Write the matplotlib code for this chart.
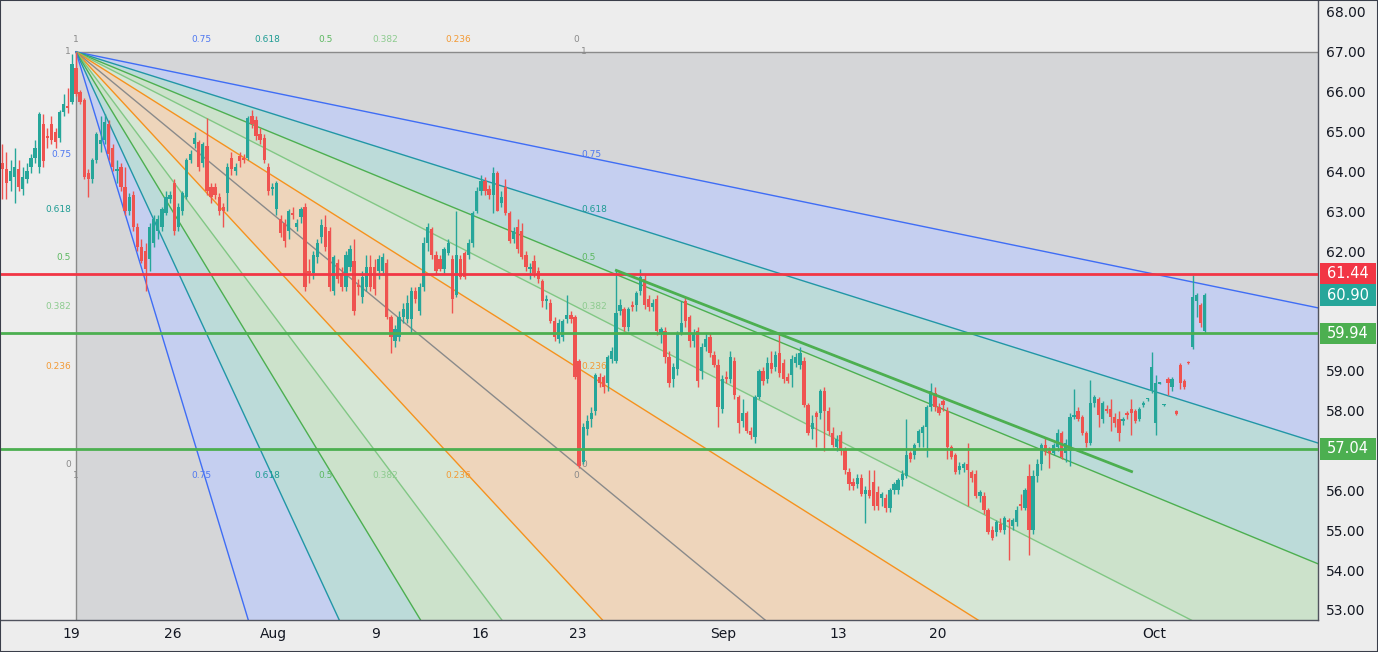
import numpy as np
import matplotlib.pyplot as plt
from matplotlib.patches import Rectangle, Polygon
import matplotlib.transforms as mtransforms

# 4h candles, first bar sits 18 bars left of the fan anchor (Jul 19 high)
first_bar = -18

opens = [
    64.2, 64.05, 63.75, 63.85, 64.05, 63.55, 63.8, 64.1, 64.35, 64.1,
    65.2, 64.9, 65.2, 65.0, 64.85, 65.5, 65.65, 65.75, 66.6, 66.0,
    65.8, 63.95, 63.8, 64.3, 64.7, 64.8, 65.2, 64.6, 64.0, 64.1,
    63.6, 63.0, 63.4, 62.6, 62.1, 62.0, 61.8, 62.2, 62.5, 62.6,
    62.95, 63.3, 63.7, 62.6, 63.0, 63.35, 64.3, 64.7, 64.75, 64.2,
    64.65, 63.6, 63.6, 63.35, 63.1, 63.45, 64.35, 64.0, 64.4, 64.35,
    64.35, 65.4, 65.3, 64.95, 64.85, 64.1, 63.55, 63.05, 62.8, 62.7,
    62.5, 62.95, 62.6, 62.85, 63.1, 61.5, 61.45, 61.85, 62.35, 62.6,
    62.5, 61.0, 61.7, 61.45, 61.1, 61.6, 61.75, 61.15, 60.85, 61.1,
    61.6, 61.6, 61.5, 61.5, 61.7, 60.35, 59.75, 59.85, 60.35, 60.3,
    60.3, 61.0, 60.5, 61.1, 62.2, 62.55, 61.9, 61.8, 61.55, 61.95,
    61.8, 60.9, 61.8, 61.95, 61.9, 62.2, 63.0, 63.5, 63.75, 63.55,
    63.4, 63.95, 63.2, 63.6, 62.95, 62.3, 62.6, 62.5, 61.9, 61.55,
    61.75, 61.5, 61.25, 60.75, 60.7, 60.25, 59.8, 59.85, 60.3, 60.4,
    60.35, 59.25, 56.7, 57.55, 57.8, 58.0, 58.85, 58.85, 58.7, 59.3,
    59.25, 60.5, 60.55, 60.1, 60.65, 60.65, 61.0, 61.3, 60.8, 60.6,
    60.8, 59.95, 60.0, 59.35, 58.8, 59.05, 59.95, 60.75, 60.35, 59.75,
    60.0, 59.0, 59.6, 59.85, 59.4, 59.15, 58.05, 58.85, 58.8, 59.25,
    58.35, 57.75, 57.95, 57.5, 57.35, 58.35, 59.0, 58.8, 59.2, 59.1,
    59.45, 59.2, 58.85, 58.9, 59.2, 59.15, 59.25, 58.15, 57.55, 57.95,
    57.95, 58.5, 58.0, 57.45, 57.1, 57.4, 57.05, 56.45, 56.2, 56.15,
    56.3, 55.9, 56.0, 56.2, 55.95, 55.8, 55.8, 55.55, 56.0, 56.0,
    56.25, 56.35, 56.95, 56.9, 57.2, 57.45, 57.6, 58.1, 58.45, 58.1,
    58.25, 58.0, 57.1, 56.9, 56.5, 56.55, 56.65, 56.45, 56.4, 55.85,
    55.85, 55.5, 55.0, 54.95, 55.15, 55.0, 55.25, 55.1, 55.2, 55.65,
    55.55, 56.35, 55.0, 56.35, 56.65, 57.15, 57.0, 56.95, 57.1, 57.45,
    56.95, 57.0, 57.85, 58.0, 57.85, 57.45, 57.2, 58.2, 58.3, 57.8,
    58.05, 58.05, 57.85, 57.8, 57.75, 57.95, 58.05, 57.98, 57.8, 58.15,
    58.28, 58.5, 57.7, 58.68, 58.14, 58.8, 58.6, 58.0, 59.15, 58.75,
    59.22, 59.6, 60.75, 60.65, 60.0,
]
highs = [
    64.7, 64.5, 64.3, 64.6, 64.3, 64.1, 64.2, 64.45, 64.8, 65.5,
    65.45, 65.1, 65.4, 65.1, 65.55, 65.95, 66.1, 66.95, 67.0, 66.05,
    65.85, 64.05, 64.35, 65.0, 65.4, 65.45, 65.3, 64.7, 64.3, 64.2,
    64.1, 63.45, 63.5, 62.7, 62.3, 62.2, 62.7, 62.9, 62.9, 63.1,
    63.5, 63.5, 63.8, 63.2, 63.5, 64.35, 64.55, 65.0, 64.8, 64.75,
    65.35, 63.7, 63.7, 63.45, 63.2, 64.2, 64.5, 64.2, 64.5, 64.45,
    65.4, 65.55, 65.4, 65.1, 64.95, 64.2, 63.7, 63.75, 62.9, 62.8,
    63.05, 63.1, 62.8, 63.1, 63.2, 61.8, 62.0, 62.3, 62.8, 62.9,
    62.6, 61.9, 61.8, 61.6, 62.0, 62.15, 62.3, 61.3, 61.5, 61.9,
    61.9, 61.8, 61.9, 61.95, 61.8, 60.4, 60.15, 60.5, 60.7, 60.9,
    61.1, 61.1, 61.2, 62.35, 62.7, 62.6, 62.0, 61.9, 62.1, 62.3,
    61.9, 63.0, 61.9, 62.0, 62.3, 63.0, 63.6, 63.9, 63.85, 63.65,
    64.1, 64.0, 63.5, 63.8, 63.0, 62.6, 62.8, 62.7, 62.0, 61.7,
    61.9, 61.6, 61.3, 60.9, 60.8, 60.35, 60.3, 60.3, 60.9, 60.5,
    60.4, 59.3, 57.7, 57.9, 58.1, 58.95, 58.95, 58.9, 59.4, 59.6,
    61.52, 60.8, 60.6, 60.6, 60.75, 61.0, 61.55, 61.4, 60.9, 60.8,
    60.9, 60.1, 60.1, 59.5, 59.2, 60.0, 60.75, 60.85, 60.4, 60.05,
    60.1, 59.7, 59.95, 59.95, 59.5, 59.3, 58.9, 59.0, 59.5, 59.35,
    58.4, 58.3, 58.0, 57.6, 58.4, 59.05, 59.1, 59.35, 59.5, 59.5,
    59.97, 59.3, 58.95, 59.4, 59.45, 59.6, 59.35, 58.2, 57.9, 58.0,
    58.55, 58.6, 58.1, 57.6, 57.4, 57.5, 57.1, 56.55, 56.3, 56.4,
    56.4, 56.1, 56.5, 56.5, 56.1, 55.95, 55.9, 56.05, 56.2, 56.3,
    56.5, 57.8, 57.0, 57.2, 57.55, 57.65, 58.15, 58.7, 58.6, 58.2,
    58.3, 58.1, 57.15, 56.95, 56.7, 56.7, 57.2, 56.5, 56.5, 56.0,
    55.95, 55.55, 55.1, 55.25, 55.3, 55.35, 55.3, 55.3, 55.6, 55.9,
    56.05, 56.65, 56.5, 56.8, 57.2, 57.35, 57.1, 57.2, 57.55, 57.5,
    57.3, 57.95, 58.55, 58.1, 57.9, 57.5, 58.77, 58.4, 58.35, 58.25,
    58.15, 58.3, 57.95, 58.0, 57.85, 58.0, 58.3, 58.05, 58.1, 58.25,
    58.32, 59.47, 58.9, 58.72, 58.17, 58.85, 58.85, 58.02, 59.2, 58.8,
    59.24, 61.4, 60.95, 60.7, 60.95,
]
lows = [
    63.3, 63.3, 63.5, 63.2, 63.5, 63.4, 63.7, 63.95, 64.2, 63.95,
    64.1, 64.6, 64.7, 64.6, 64.75, 65.4, 65.47, 65.7, 65.9, 65.7,
    63.8, 63.35, 63.7, 64.2, 64.5, 64.7, 64.3, 64.0, 63.7, 63.5,
    62.9, 62.9, 62.5, 62.0, 61.7, 61.0, 61.5, 62.1, 62.3, 62.5,
    62.9, 63.2, 62.4, 62.5, 62.9, 63.3, 64.2, 64.6, 64.0, 64.1,
    63.4, 63.2, 63.3, 62.9, 62.6, 63.0, 63.9, 63.9, 64.1, 64.2,
    64.3, 65.1, 64.8, 64.7, 64.2, 63.4, 63.4, 62.9, 62.35, 62.1,
    62.3, 62.8, 62.5, 62.7, 61.0, 61.2, 61.3, 61.7, 62.2, 62.0,
    61.0, 60.9, 61.2, 61.0, 61.0, 61.5, 60.4, 60.9, 60.7, 61.0,
    61.0, 60.9, 61.3, 61.4, 60.3, 59.45, 59.6, 59.75, 60.2, 60.2,
    59.95, 60.7, 60.4, 61.0, 62.0, 61.8, 61.4, 61.5, 61.45, 61.9,
    60.45, 60.85, 61.3, 61.3, 61.8, 62.1, 62.95, 63.4, 63.4, 63.3,
    62.95, 63.0, 63.1, 62.9, 62.2, 62.2, 61.95, 61.8, 61.5, 61.3,
    61.35, 61.2, 60.6, 60.55, 60.2, 59.75, 59.7, 59.75, 60.2, 60.2,
    58.8, 56.55, 56.65, 57.4, 57.6, 57.9, 58.6, 58.45, 58.5, 59.2,
    59.2, 60.4, 60.0, 60.0, 60.5, 60.5, 60.9, 60.55, 60.5, 60.5,
    59.9, 59.7, 59.2, 58.6, 58.6, 58.9, 59.9, 60.1, 59.6, 59.6,
    58.6, 58.8, 59.5, 59.35, 59.1, 57.6, 57.95, 58.7, 58.7, 58.3,
    57.45, 57.6, 57.45, 57.3, 57.2, 58.3, 58.65, 58.7, 58.95, 59.0,
    58.85, 58.7, 58.7, 58.6, 59.1, 59.05, 58.1, 57.4, 57.3, 57.1,
    57.8, 57.0, 57.4, 57.1, 57.0, 56.9, 56.4, 56.0, 56.0, 56.05,
    55.85, 55.18, 55.8, 55.5, 55.5, 55.6, 55.45, 55.45, 55.9, 55.9,
    56.1, 56.3, 56.7, 56.8, 57.1, 57.1, 56.85, 58.0, 58.0, 57.9,
    58.0, 56.8, 56.8, 56.4, 56.4, 56.45, 55.6, 56.2, 55.8, 55.7,
    55.4, 54.9, 54.75, 54.85, 54.95, 54.9, 54.25, 55.0, 55.1, 55.5,
    55.5, 54.38, 54.9, 56.2, 56.5, 56.9, 56.55, 56.9, 57.0, 56.8,
    56.7, 56.6, 57.8, 57.75, 57.4, 57.1, 57.15, 58.1, 57.6, 57.7,
    57.95, 57.5, 57.6, 57.25, 57.65, 57.8, 57.4, 57.7, 57.75, 58.1,
    58.25, 58.45, 57.4, 58.66, 58.12, 58.4, 58.5, 57.9, 58.55, 58.55,
    59.18, 59.55, 60.35, 60.1, 59.95,
]
closes = [
    64.05, 63.7, 64.0, 64.1, 63.6, 63.85, 64.0, 64.35, 64.6, 65.45,
    64.25, 64.85, 64.8, 64.75, 65.5, 65.7, 65.58, 66.7, 65.95, 65.75,
    63.85, 63.8, 64.3, 64.95, 64.8, 65.25, 64.45, 64.1, 64.05, 63.6,
    63.0, 63.35, 62.6, 62.1, 61.75, 61.55, 62.6, 62.8, 62.8, 63.05,
    63.35, 63.4, 62.5, 63.1, 63.45, 64.3, 64.45, 64.85, 64.1, 64.7,
    63.5, 63.35, 63.4, 63.0, 63.0, 64.1, 64.05, 64.1, 64.25, 64.3,
    65.35, 65.2, 64.9, 64.8, 64.3, 63.5, 63.6, 63.7, 62.45, 62.25,
    63.0, 62.9, 62.7, 63.05, 61.1, 61.45, 61.9, 62.2, 62.65, 62.1,
    61.1, 61.85, 61.3, 61.1, 61.9, 62.05, 60.5, 61.1, 61.35, 61.6,
    61.1, 61.05, 61.8, 61.85, 60.35, 59.85, 60.05, 60.35, 60.55, 60.7,
    61.0, 60.8, 61.1, 62.2, 62.6, 61.9, 61.5, 61.55, 62.05, 62.2,
    60.8, 61.9, 61.35, 61.35, 62.2, 62.95, 63.5, 63.75, 63.5, 63.4,
    63.95, 63.0, 63.35, 62.95, 62.25, 62.5, 62.05, 61.85, 61.6, 61.6,
    61.45, 61.3, 60.75, 60.8, 60.25, 59.85, 60.2, 60.25, 60.4, 60.3,
    58.85, 56.6, 57.6, 57.75, 57.95, 58.9, 58.7, 58.6, 59.35, 59.5,
    60.45, 60.65, 60.1, 60.55, 60.6, 60.95, 61.35, 60.65, 60.6, 60.7,
    60.0, 60.05, 59.35, 58.7, 59.1, 59.95, 60.2, 60.25, 59.75, 59.95,
    58.75, 59.6, 59.8, 59.45, 59.15, 58.1, 58.8, 58.8, 59.35, 58.4,
    57.7, 57.95, 57.5, 57.4, 58.35, 59.0, 58.75, 59.2, 59.05, 59.4,
    58.95, 58.8, 58.75, 59.3, 59.35, 59.45, 58.15, 57.45, 57.7, 57.85,
    58.5, 58.0, 57.5, 57.15, 57.3, 57.0, 56.5, 56.15, 56.1, 56.3,
    55.9, 56.0, 55.85, 55.6, 55.6, 55.9, 55.55, 56.0, 56.15, 56.25,
    56.4, 56.9, 56.8, 57.15, 57.5, 57.6, 58.1, 58.5, 58.1, 57.95,
    58.15, 57.1, 56.85, 56.45, 56.6, 56.65, 56.5, 56.3, 55.85, 55.95,
    55.5, 54.95, 54.8, 55.2, 55.0, 55.3, 55.2, 55.25, 55.5, 55.6,
    56.0, 55.0, 56.35, 56.65, 57.15, 57.0, 56.95, 57.15, 57.45, 56.85,
    57.2, 57.85, 57.9, 57.8, 57.45, 57.2, 58.2, 58.35, 57.9, 58.2,
    58.0, 57.85, 57.7, 57.45, 57.8, 57.88, 57.95, 57.75, 58.05, 58.2,
    58.3, 59.1, 58.7, 58.7, 58.15, 58.7, 58.8, 57.92, 58.7, 58.6,
    59.2, 60.85, 60.9, 60.2, 60.9,
]

tick_labels = ["19", "26", "Aug", "9", "16", "23", "Sep", "13", "20", "Oct"]
tick_bars = [-1.2, 23.7, 48.2, 73.3, 98.8, 122.7, 158.2, 186.3, 210.8, 263.6]
price_ticks = [68, 67, 66, 65, 64, 63, 62, 59, 58, 56, 55, 54, 53]

# fib speed resistance fan: high of Jul 19 -> low of Aug 23
fan_start = (0.0, 67.0)
fan_end = (122.25, 56.66)
fib_levels = [1, 0.75, 0.618, 0.5, 0.382, 0.236, 0]
fib_names = ["1", "0.75", "0.618", "0.5", "0.382", "0.236", "0"]

resistance = 61.44
supports = [59.94, 57.04]
last_price = 60.90
trend_start = (131.8, 61.53)
trend_end = (258.4, 56.46)

BG = "#ededed"
UP = "#26a69a"
DOWN = "#ef5350"
RED = "#f23645"
GREEN = "#4caf50"

line_col = {1: "#8a8a8a", 0.75: "#3f6df5", 0.618: "#2196a6", 0.5: "#4caf50",
            0.382: "#81c784", 0.236: "#f5921e", 0: "#8a8a8a"}
label_col = {1: "#8a8a8a", 0.75: "#4f78f0", 0.618: "#1f9c94", 0.5: "#5cb860",
             0.382: "#8dcb8f", 0.236: "#f39a35", 0: "#8a8a8a"}
fill_col = {1: "#d5d6d8", 0.75: "#c5cff0", 0.618: "#bcdbd9", 0.5: "#cce2cb",
            0.382: "#d6e6d5", 0.236: "#eed5bb"}

fig = plt.figure(figsize=(13.78, 6.52), dpi=100, facecolor=BG)
ax = fig.add_axes([0, 32 / 652, 1318 / 1378, 620 / 652])
ax.set_facecolor(BG)

# fan rays, ordered from the horizontal one round to the vertical one
x0, y0 = fan_start
x1, y1 = fan_end
rays = [((x1, y1 + r * (y0 - y1)), r) for r in fib_levels]
rays += [((x1 - r * (x1 - x0), y1), r) for r in fib_levels[::-1]][1:]

T = 60.0
far = [(x0 + T * (p[0] - x0), y0 + T * (p[1] - y0)) for p, _ in rays]
for k in range(len(rays) - 1):
    lev = max(rays[k][1], rays[k + 1][1])
    ax.add_patch(Polygon([fan_start, far[k], far[k + 1]], closed=True,
                         fc=fill_col[lev], ec="none", zorder=1))
for (p, r), f in zip(rays, far):
    ax.plot([x0, f[0]], [y0, f[1]], color=line_col[r], lw=1, zorder=2)

for r, name in zip(fib_levels, fib_names):
    py = y1 + r * (y0 - y1)
    tx = x1 - r * (x1 - x0)
    kw = dict(textcoords="offset pixels", fontsize=6.5, color=label_col[r], zorder=3)
    ax.annotate(name, (tx, y0), xytext=(0, 12), ha="center", va="center", **kw)
    ax.annotate(name, (tx, y1), xytext=(0, -11), ha="center", va="center", **kw)
    ax.annotate(name, (x0, py), xytext=(-5, 0), ha="right", va="center", **kw)
    ax.annotate(name, (x1, py), xytext=(5, 0), ha="left", va="center", **kw)

# candles
o = np.array(opens)
h = np.array(highs)
l = np.array(lows)
c = np.array(closes)
x = np.arange(len(c)) + first_bar
cols = np.where(c >= o, UP, DOWN)
ax.vlines(x, l, h, colors=cols, lw=1, zorder=4)
ax.bar(x, np.maximum(np.abs(c - o), 0.03), bottom=np.minimum(o, c), width=0.8,
       color=cols, linewidth=0, zorder=5)

# levels
ax.axhline(resistance, color=RED, lw=2, zorder=6)
for s in supports:
    ax.axhline(s, color=GREEN, lw=2, zorder=6)
ax.plot([trend_start[0], trend_end[0]], [trend_start[1], trend_end[1]],
        color=GREEN, lw=2, zorder=6, solid_capstyle="butt")

ax.set_xlim(-76 / 4.09, (1318 - 76) / 4.09)
ax.set_ylim(52.749, 68.301)

ax.yaxis.tick_right()
ax.set_yticks(price_ticks)
ax.set_yticklabels([f"{p:.2f}" for p in price_ticks])
ax.set_xticks(tick_bars)
ax.set_xticklabels(tick_labels)
ax.tick_params(axis="both", length=0, labelsize=10, labelcolor="#131722")
ax.tick_params(axis="y", pad=6)
ax.tick_params(axis="x", pad=5)
for s in ["left", "top"]:
    ax.spines[s].set_visible(False)
for s in ["right", "bottom"]:
    ax.spines[s].set_color("#50535e")
    ax.spines[s].set_linewidth(1)

# price boxes on the scale
trans = mtransforms.blended_transform_factory(ax.transAxes, ax.transData)
box_w = 56 / 1318
for price, col in [(resistance, RED), (last_price, UP), (supports[0], GREEN), (supports[1], GREEN)]:
    ax.add_patch(Rectangle((1.0015, price - 0.27), box_w, 0.54, transform=trans,
                           fc=col, ec="none", clip_on=False, zorder=7))
    ax.text(1.0015 + box_w / 2, price, f"{price:.2f}", transform=trans, ha="center",
            va="center", color="white", fontsize=10.5, clip_on=False, zorder=8)

fig.patches.append(Rectangle((0, 0), 1, 1, transform=fig.transFigure, fill=False,
                             ec="#3a3e4a", lw=1.5))

fig.savefig("out.png", dpi=100, facecolor=BG)
